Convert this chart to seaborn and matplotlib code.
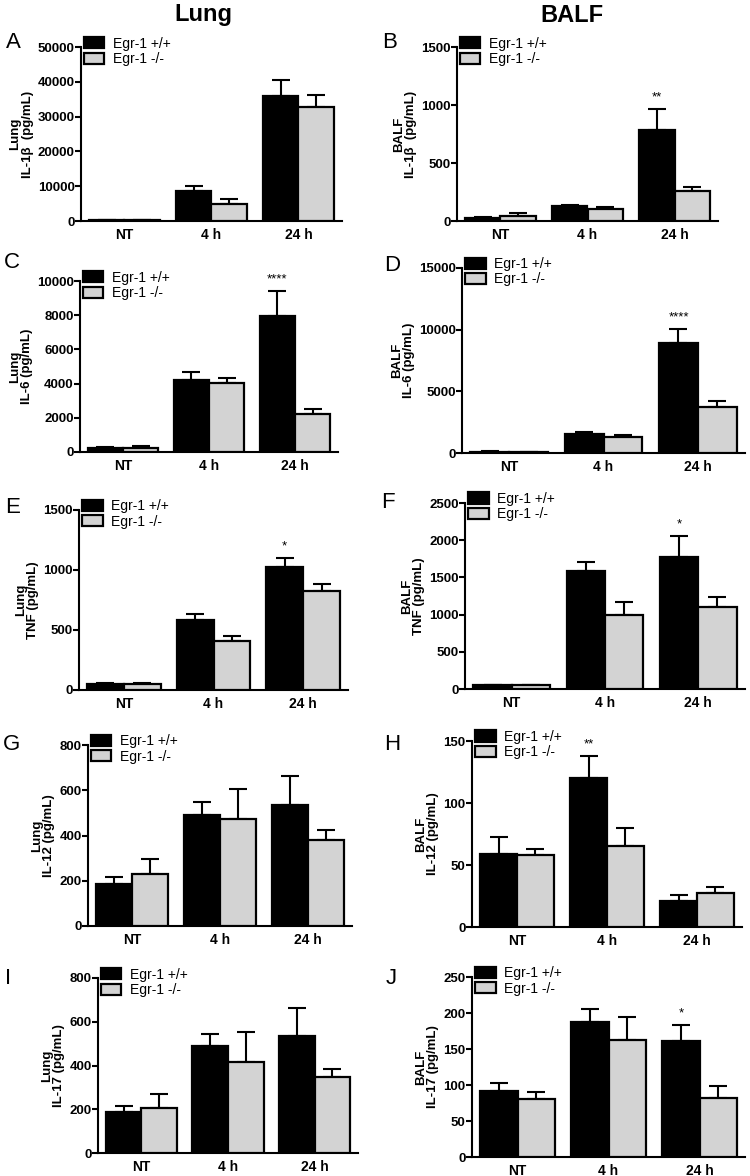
import numpy as np
import pandas as pd
import seaborn as sns
import matplotlib.pyplot as plt

sns.set_style("ticks")
plt.rcParams['font.family'] = ['Liberation Sans', 'DejaVu Sans']
plt.rcParams['text.color'] = 'black'
plt.rcParams['axes.labelcolor'] = 'black'
plt.rcParams['xtick.color'] = 'black'
plt.rcParams['ytick.color'] = 'black'
plt.rcParams['axes.edgecolor'] = 'black'

groups = ["NT", "4 h", "24 h"]
genotypes = ["Egr-1 +/+", "Egr-1 -/-"]

# ---- data (mean, upper SEM) ----
lung_il1b_wt = [200, 8600, 35900]
lung_il1b_wt_err = [80, 1450, 4600]
lung_il1b_ko = [200, 4900, 32850]
lung_il1b_ko_err = [80, 1350, 3250]

balf_il1b_wt = [23, 129, 784]
balf_il1b_wt_err = [9, 9, 182]
balf_il1b_ko = [46, 100, 261]
balf_il1b_ko_err = [20, 18, 29]

lung_il6_wt = [233, 4220, 7960]
lung_il6_wt_err = [78, 450, 1480]
lung_il6_ko = [253, 4030, 2240]
lung_il6_ko_err = [77, 310, 250]

balf_il6_wt = [108, 1570, 8920]
balf_il6_wt_err = [20, 160, 1130]
balf_il6_ko = [80, 1300, 3730]
balf_il6_ko_err = [15, 130, 460]

lung_tnf_wt = [53, 583, 1025]
lung_tnf_wt_err = [5, 50, 72]
lung_tnf_ko = [53, 408, 822]
lung_tnf_ko_err = [5, 45, 58]

balf_tnf_wt = [54, 1584, 1773]
balf_tnf_wt_err = [6, 121, 287]
balf_tnf_ko = [54, 1001, 1108]
balf_tnf_ko_err = [6, 166, 131]

lung_il12_wt = [187, 490, 535]
lung_il12_wt_err = [28, 58, 126]
lung_il12_ko = [228, 473, 378]
lung_il12_ko_err = [69, 132, 46]

balf_il12_wt = [59, 120, 21]
balf_il12_wt_err = [13.6, 18, 5]
balf_il12_ko = [57.8, 65, 27.4]
balf_il12_ko_err = [5.2, 15, 4.6]

lung_il17_wt = [186, 491, 537]
lung_il17_wt_err = [29, 55, 125]
lung_il17_ko = [207, 415, 346]
lung_il17_ko_err = [63, 140, 38]

balf_il17_wt = [91, 188, 161]
balf_il17_wt_err = [11.5, 17, 23]
balf_il17_ko = [80, 163, 82.6]
balf_il17_ko_err = [10, 32, 15.4]

panels = [
    dict(letter="A", ylabel="Lung\nIL-1β  (pg/mL)", wt=lung_il1b_wt, wte=lung_il1b_wt_err,
         ko=lung_il1b_ko, koe=lung_il1b_ko_err, ymax=50000, step=10000, stars=None),
    dict(letter="B", ylabel="BALF\nIL-1β  (pg/mL)", wt=balf_il1b_wt, wte=balf_il1b_wt_err,
         ko=balf_il1b_ko, koe=balf_il1b_ko_err, ymax=1500, step=500, stars=(2, "**")),
    dict(letter="C", ylabel="Lung\nIL-6 (pg/mL)", wt=lung_il6_wt, wte=lung_il6_wt_err,
         ko=lung_il6_ko, koe=lung_il6_ko_err, ymax=10000, step=2000, stars=(2, "****")),
    dict(letter="D", ylabel="BALF\nIL-6 (pg/mL)", wt=balf_il6_wt, wte=balf_il6_wt_err,
         ko=balf_il6_ko, koe=balf_il6_ko_err, ymax=15000, step=5000, stars=(2, "****")),
    dict(letter="E", ylabel="Lung\nTNF (pg/mL)", wt=lung_tnf_wt, wte=lung_tnf_wt_err,
         ko=lung_tnf_ko, koe=lung_tnf_ko_err, ymax=1500, step=500, stars=(2, "*")),
    dict(letter="F", ylabel="BALF\nTNF (pg/mL)", wt=balf_tnf_wt, wte=balf_tnf_wt_err,
         ko=balf_tnf_ko, koe=balf_tnf_ko_err, ymax=2500, step=500, stars=(2, "*")),
    dict(letter="G", ylabel="Lung\nIL-12 (pg/mL)", wt=lung_il12_wt, wte=lung_il12_wt_err,
         ko=lung_il12_ko, koe=lung_il12_ko_err, ymax=800, step=200, stars=None),
    dict(letter="H", ylabel="BALF\nIL-12 (pg/mL)", wt=balf_il12_wt, wte=balf_il12_wt_err,
         ko=balf_il12_ko, koe=balf_il12_ko_err, ymax=150, step=50, stars=(1, "**")),
    dict(letter="I", ylabel="Lung\nIL-17 (pg/mL)", wt=lung_il17_wt, wte=lung_il17_wt_err,
         ko=lung_il17_ko, koe=lung_il17_ko_err, ymax=800, step=200, stars=None),
    dict(letter="J", ylabel="BALF\nIL-17 (pg/mL)", wt=balf_il17_wt, wte=balf_il17_wt_err,
         ko=balf_il17_ko, koe=balf_il17_ko_err, ymax=250, step=50, stars=(2, "*")),
]

# ---- layout (pixel boxes: x0, y_top, x1, y_bottom) ----
W, H = 750, 1176
rects = [
    (81, 47, 342, 221), (457, 47, 718, 221),
    (80, 281, 338, 452), (462, 268, 745, 453),
    (79, 510, 348, 690), (465, 503, 745, 689),
    (88, 745, 352, 926), (472, 741, 742, 927),
    (98, 978, 358, 1153), (472, 977, 745, 1157),
]
letter_pos = [(13, 43), (390, 43), (12, 263), (392, 265), (13, 508), (388, 502),
              (12, 745), (392, 745), (8, 979), (391, 979)]

fig = plt.figure(figsize=(W / 100, H / 100), dpi=100)
colors = ["#000000", "#d3d3d3"]

for p, r, lp in zip(panels, rects, letter_pos):
    x0, yt, x1, yb = r
    ax = fig.add_axes([x0 / W, 1 - yb / H, (x1 - x0) / W, (yb - yt) / H])
    df = pd.DataFrame({
        "time": groups * 2,
        "genotype": [genotypes[0]] * 3 + [genotypes[1]] * 3,
        "value": list(p["wt"]) + list(p["ko"]),
    })
    sns.barplot(data=df, x="time", y="value", hue="genotype", order=groups,
                hue_order=genotypes, palette=colors, errorbar=None, width=0.82,
                edgecolor="black", linewidth=1.6, ax=ax, zorder=3)
    errs = [p["wte"], p["koe"]]
    for ci, (cont, e) in enumerate(zip(ax.containers, errs)):
        xs = [b.get_x() + b.get_width() / 2 for b in cont]
        hs = [b.get_height() for b in cont]
        ax.errorbar(xs, hs, yerr=[np.zeros(len(e)), e], fmt="none", ecolor="black",
                    elinewidth=1.5, capsize=6.5, capthick=1.5, zorder=2)
        if p["stars"] is not None and ci == 0:
            gi, s = p["stars"]
            ax.annotate(s, (xs[gi], hs[gi] + e[gi]), xytext=(0, 4), textcoords="offset points",
                        ha="center", va="bottom", fontsize=9.5)
    ax.set_xlim(-0.5, 2.5)
    ax.set_ylim(0, p["ymax"])
    ax.set_yticks(np.arange(0, p["ymax"] + 1, p["step"]))
    ax.set_yticklabels([f"{int(v)}" for v in np.arange(0, p["ymax"] + 1, p["step"])])
    ax.set_xlabel("")
    ax.set_ylabel(p["ylabel"], fontsize=9.5, fontweight="bold", labelpad=3, linespacing=1.0)
    for sp in ["top", "right"]:
        ax.spines[sp].set_visible(False)
    for sp in ["left", "bottom"]:
        ax.spines[sp].set_linewidth(1.5)
    ax.tick_params(axis="y", length=4, width=1.5, direction="out", labelsize=9.5, pad=0.5)
    ax.tick_params(axis="x", length=0, labelsize=10, pad=5)
    for lab in ax.get_xticklabels() + ax.get_yticklabels():
        lab.set_fontweight("bold")
    handles, labels = ax.get_legend_handles_labels()
    ax.legend(handles, labels, loc="upper left", bbox_to_anchor=(0.01, 1.06), frameon=False,
              fontsize=10, handlelength=1.5, handleheight=0.85, labelspacing=0.1,
              handletextpad=0.6, borderpad=0, borderaxespad=0)
    fig.text(lp[0] / W, 1 - lp[1] / H, p["letter"], fontsize=16, ha="center", va="center")

fig.text(203 / W, 1 - 15 / H, "Lung", fontsize=17, fontweight="bold", ha="center", va="center")
fig.text(572 / W, 1 - 15 / H, "BALF", fontsize=17, fontweight="bold", ha="center", va="center")

fig.savefig("out.png", dpi=100)
